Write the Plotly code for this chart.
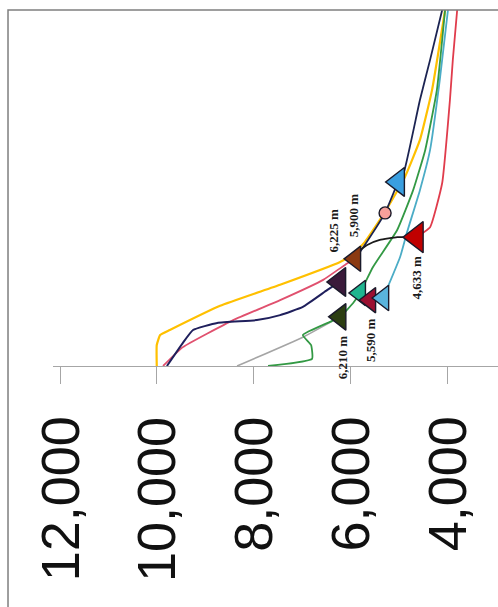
import plotly.graph_objects as go

# Elevation profiles (m) against relative position along the section (0-100)
yellow_elev = [10000, 10000, 9930, 9730, 8690, 7450, 6210, 5960, 5700, 5280, 4870, 4560, 4310, 4040]
yellow_pos = [0, 5.9, 8.7, 10.1, 16.9, 22.8, 29.2, 31.2, 34.8, 43.3, 53.1, 63.5, 77.5, 100]

crimson_elev = [9870, 9460, 8420, 7450, 6560, 6110, 5900]
crimson_pos = [0, 5.3, 12.9, 18.5, 24.2, 28.4, 30.1]

navy_low_elev = [9790, 9460, 9250, 8750, 7930, 7450, 6980, 6480, 6225]
navy_low_pos = [0, 6.5, 10.1, 12.1, 12.9, 14.3, 16.6, 21.3, 23.6]

navy_high_elev = [4100, 4350, 4560, 4890, 5010, 5280, 5700, 5900]
navy_high_pos = [100, 86.0, 74.7, 54.5, 51.7, 43.0, 34.0, 30.1]

gray_elev = [8340, 6980, 6210]
gray_pos = [0, 8.1, 13.8]

green_elev = [7700, 6790, 6810, 6980, 6420, 6210, 5940, 5800, 5530, 5030, 4700, 4450, 4210, 4040]
green_pos = [0, 2.0, 5.9, 8.7, 12.4, 13.8, 17.7, 20.5, 27.8, 38.2, 49.4, 60.7, 77.5, 100]

cyan_elev = [5320, 4970, 4830, 4560, 4350, 4150, 3980]
cyan_pos = [19.1, 30.6, 37.4, 49.4, 60.7, 80.3, 100]

red_elev = [3790, 3880, 3940, 4100, 4350, 4633]
red_pos = [100, 86.0, 74.7, 51.4, 39.0, 36.2]

link_elev = [4633, 5030, 5390, 5650, 5860]
link_pos = [36.2, 36.2, 35.4, 34.0, 32.0]

# Point markers
marker_elev = [5010, 5280, 4633, 5900, 6225, 5800, 5590, 5320, 6210]
marker_pos = [51.7, 43.0, 36.2, 30.1, 23.6, 20.5, 18.5, 19.1, 13.8]
marker_symbols = ["triangle-left", "circle", "triangle-left", "triangle-left", "triangle-left",
                  "triangle-left", "triangle-left", "triangle-left", "triangle-left"]
marker_colors = ["#3A9FE0", "#F7A09A", "#C00000", "#8B3A12", "#3A1A3A",
                 "#1FB58F", "#9B1030", "#5AB4DC", "#2C3E12"]
marker_sizes = [25, 12, 27, 22, 25, 22, 22, 22, 23]

# Annotated elevations
label_elev = [6225, 5900, 4633, 5590, 6210]
label_pos = [38.2, 42.4, 25.0, 7.3, 2.5]
label_text = ["6,225 m", "5,900 m", "4,633 m", "5,590 m", "6,210 m"]
label_shift = [-6, -2, 0, 0, 2]

tick_values = [12000, 10000, 8000, 6000, 4000]
tick_labels = ["12,000", "10,000", "8,000", "6,000", "4,000"]

fig = go.Figure()


def add_line(xs, ys, color, width=2.0):
    fig.add_trace(go.Scatter(x=xs, y=ys, mode="lines",
                             line=dict(color=color, width=width, shape="spline", smoothing=0.4),
                             hoverinfo="skip", showlegend=False))


add_line(gray_elev, gray_pos, "#A5A5A5", 1.6)
add_line(yellow_elev, yellow_pos, "#FFC000", 2.2)
add_line(crimson_elev, crimson_pos, "#E0506E", 1.8)
add_line(navy_low_elev, navy_low_pos, "#1F1F5C", 2.0)
add_line(cyan_elev, cyan_pos, "#4BACC6", 1.8)
add_line(green_elev, green_pos, "#339944", 1.8)
add_line(red_elev, red_pos, "#E03C4C", 1.8)
add_line(navy_high_elev, navy_high_pos, "#1C2452", 1.8)
add_line(link_elev, link_pos, "#1A1A1A", 1.8)

fig.add_trace(go.Scatter(
    x=marker_elev, y=marker_pos, mode="markers",
    marker=dict(symbol=marker_symbols, color=marker_colors, size=marker_sizes, opacity=1,
                line=dict(color="#1A1A2A", width=1.4)),
    hoverinfo="skip", showlegend=False))

for xv, yv, txt, sh in zip(label_elev, label_pos, label_text, label_shift):
    fig.add_annotation(x=xv, y=yv, text="<b>" + txt + "</b>", showarrow=False, textangle=-90,
                       xshift=sh,
                       font=dict(family="Liberation Serif", size=13, color="#1A1A1A"))

# Axis tick labels, rotated to read upward and aligned just below the ticks
for tv, tt in zip(tick_values, tick_labels):
    fig.add_annotation(x=tv, xref="x", y=-0.14, yref="paper", yanchor="top",
                       text=tt, showarrow=False, textangle=-90, borderpad=0,
                       font=dict(family="Liberation Sans", size=54, color="#111111"))

# Outer chart frame
fig.add_shape(type="rect", xref="paper", yref="paper",
              x0=-0.1011, x1=1.05, y0=-0.72, y1=1.0,
              line=dict(color="#7F7F7F", width=1.5), layer="above")

fig.update_layout(
    width=498, height=607,
    margin=dict(l=53, r=0, t=10, b=241),
    paper_bgcolor="white", plot_bgcolor="white",
    xaxis=dict(range=[12145, 2946], showgrid=False, zeroline=False,
               showline=True, linecolor="#A6A6A6", linewidth=1.2,
               ticks="outside", ticklen=17, tickcolor="#A6A6A6", tickwidth=1.2,
               tickvals=tick_values, showticklabels=False),
    yaxis=dict(range=[0, 100], visible=False),
)

fig.write_html("out.html")
